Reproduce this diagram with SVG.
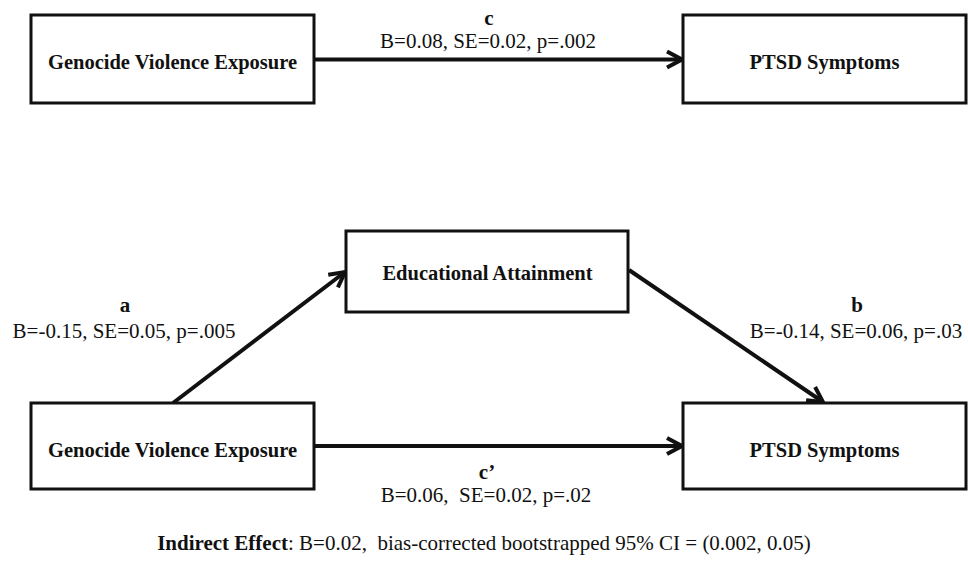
<svg xmlns="http://www.w3.org/2000/svg" width="968" height="568" viewBox="0 0 968 568">
<style>
text{font-family:'Liberation Serif','DejaVu Serif','Times New Roman',serif;fill:#111;text-anchor:middle}
.box{fill:#fff;stroke:#111;stroke-width:3}
.lbl{font-weight:bold;font-size:20.5px}
.st{font-size:21px}
.pl{font-weight:bold;font-size:21px}
.edge{fill:none;stroke:#111;stroke-width:4;marker-end:url(#arr)}
</style>
<defs>
<marker id="arr" viewBox="0 0 20 20" refX="18" refY="10" markerWidth="20" markerHeight="20" markerUnits="userSpaceOnUse" orient="auto">
<path d="M3,2 L18,10 L3,18" fill="none" stroke="#111" stroke-width="4" stroke-linejoin="miter"/>
</marker>
</defs>
<rect width="968" height="568" fill="#fff"/>
<g id="connectors">
<path class="edge" d="M314,59.5 L682,59.5"/>
<path class="edge" d="M173,403 L345,272"/>
<path class="edge" d="M629,270 L823,402"/>
<path class="edge" d="M314,446 L682,446"/>
</g>
<g id="gve_top"><rect class="box" x="31" y="15" width="283" height="88"/><text class="lbl" x="172.5" y="69" font-family="Liberation Serif">Genocide Violence Exposure</text></g>
<g id="ptsd_top"><rect class="box" x="683" y="15" width="283" height="88"/><text class="lbl" x="824.5" y="69">PTSD Symptoms</text></g>
<g id="edu"><rect class="box" x="346" y="231" width="282" height="81"/><text class="lbl" x="487.5" y="280">Educational Attainment</text></g>
<g id="gve_bot"><rect class="box" x="31" y="403" width="283" height="86"/><text class="lbl" x="172.5" y="457">Genocide Violence Exposure</text></g>
<g id="ptsd_bot"><rect class="box" x="683" y="403" width="283" height="86"/><text class="lbl" x="824.5" y="457">PTSD Symptoms</text></g>
<g id="labels">
<text class="pl" x="489" y="25">c</text>
<text class="st" x="488" y="48">B=0.08, SE=0.02, p=.002</text>
<text class="pl" x="125" y="312">a</text>
<text class="st" x="124" y="338">B=-0.15, SE=0.05, p=.005</text>
<text class="pl" x="857" y="312">b</text>
<text class="st" x="856" y="338">B=-0.14, SE=0.06, p=.03</text>
<text class="pl" x="487" y="479">c’</text>
<text class="st" x="486" y="502" xml:space="preserve">B=0.06,  SE=0.02, p=.02</text>
<text class="st" x="484" y="550" xml:space="preserve"><tspan font-weight="bold">Indirect Effect</tspan>: B=0.02,  bias-corrected bootstrapped 95% CI = (0.002, 0.05)</text>
</g>
</svg>
